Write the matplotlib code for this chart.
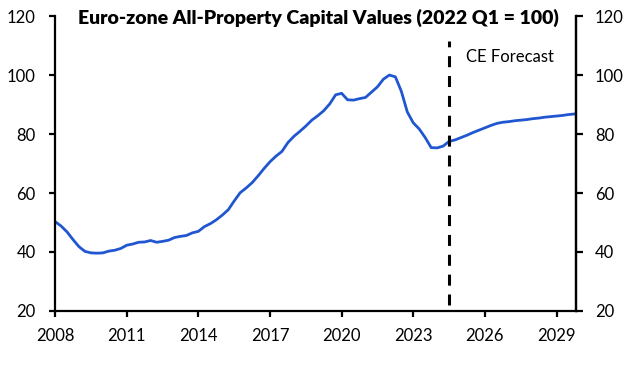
import numpy as np
import matplotlib
matplotlib.use('Agg')
import matplotlib.pyplot as plt

plt.rcParams['font.family'] = ['Lato', 'DejaVu Sans']

# quarterly index, 2008 Q1 .. 2029 Q4 (2022 Q1 = 100)
start_year = 2008
values = [
    50.3, 48.8, 46.8, 44.2,   # 2008
    41.8, 40.2, 39.7, 39.6,   # 2009
    39.7, 40.3, 40.6, 41.2,   # 2010
    42.3, 42.7, 43.3, 43.4,   # 2011
    43.9, 43.3, 43.6, 44.0,   # 2012
    44.9, 45.3, 45.6, 46.5,   # 2013
    47.0, 48.6, 49.6, 50.9,   # 2014
    52.5, 54.3, 57.3, 60.1,   # 2015
    61.7, 63.5, 65.8, 68.3,   # 2016
    70.6, 72.5, 74.1, 77.1,   # 2017
    79.2, 80.9, 82.7, 84.7,   # 2018
    86.2, 87.9, 90.2, 93.3,   # 2019
    93.8, 91.6, 91.5, 92.0,   # 2020
    92.4, 94.2, 96.0, 98.6,   # 2021
    100.0, 99.4, 94.5, 87.5,  # 2022
    83.8, 81.7, 78.8, 75.4,   # 2023
    75.3, 75.9, 77.5, 78.0,   # 2024
    78.8, 79.6, 80.5, 81.3,   # 2025
    82.1, 82.9, 83.6, 84.0,   # 2026
    84.2, 84.5, 84.7, 84.9,   # 2027
    85.2, 85.4, 85.7, 85.9,   # 2028
    86.1, 86.3, 86.6, 86.8,   # 2029
]
forecast_start = 2024.5
xticks = [2008, 2011, 2014, 2017, 2020, 2023, 2026, 2029]
yticks = [20, 40, 60, 80, 100, 120]

x = start_year + np.arange(len(values)) * 0.25

fig = plt.figure(figsize=(6.41, 3.65), dpi=100)
ax = fig.add_axes([0.086, 0.148, 0.812, 0.808])

ax.plot(x, values, color='#2156d1', lw=2.0, solid_joinstyle='round')
ax.plot([forecast_start, forecast_start], [22, 111.5], color='black', lw=2.2,
        linestyle=(0, (3.6, 2.9)))
ax.text(2025.2, 106, 'CE Forecast', fontsize=12, va='center', ha='left')

ax.set_xlim(2008, 2029.8)
ax.set_ylim(20, 120)
ax.set_xticks(xticks)
ax.set_yticks(yticks)

ax2 = ax.twinx()
ax2.set_ylim(20, 120)
ax2.set_yticks(yticks)

for a in (ax, ax2):
    a.spines['top'].set_visible(False)
    for s in a.spines.values():
        s.set_linewidth(1.6)
ax2.spines['left'].set_visible(False)
ax2.spines['bottom'].set_visible(False)

ax.tick_params(axis='y', length=4, width=1.6, pad=10, labelsize=12)
ax.tick_params(axis='x', length=4, width=1.6, pad=8, labelsize=12)
ax2.tick_params(axis='y', length=5, width=1.6, pad=9, labelsize=12)

fig.text(0.497, 0.951, 'Euro-zone All-Property Capital Values (2022 Q1 = 100)',
         ha='center', va='center', fontsize=14, fontweight='heavy')

fig.savefig('out.png', dpi=100)
